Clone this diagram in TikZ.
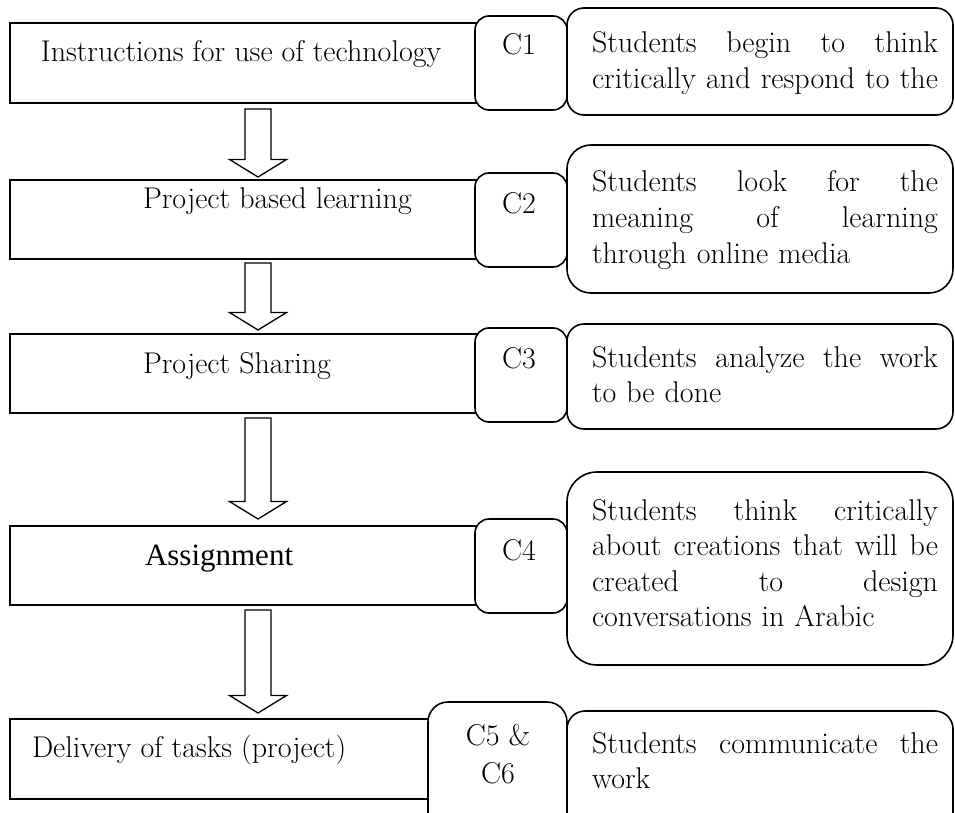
\documentclass[tikz,border=0pt]{standalone}
\usepackage{fontspec}
\newfontfamily\tnr{Liberation Serif}
\usetikzlibrary{calc}
\newcommand\blockarrow[2]{%
  \draw[blockarr] ($(#1)+(-13,0)$) -- ($(#1)+(13,0)$) -- ($(#2)+(13,-17.5)$)
    -- ($(#2)+(28.5,-17.5)$) -- (#2) -- ($(#2)+(-28.5,-17.5)$)
    -- ($(#2)+(-13,-17.5)$) -- cycle;}
\newcommand\jline[1]{\leavevmode\hbox to 346pt{#1}}
\begin{document}
\begin{tikzpicture}[x=1pt,y=-1pt,
  every node/.style={inner sep=0pt,outer sep=0pt},
  stepbox/.style={draw,fill=white,line width=1.6pt,anchor=north west},
  cbox/.style={draw,fill=white,line width=1.6pt,anchor=north west,rounded corners=14pt},
  rbox/.style={draw,fill=white,line width=1.6pt,anchor=north west},
  blockarr/.style={draw,fill=white,line width=1.3pt,line join=miter},
  txt/.style={font=\fontsize{30}{35.5}\selectfont},
  rtxt/.style={txt,anchor=base west,text width=346pt,align=left},
]
\useasboundingbox (0,0) rectangle (955,813);
\clip (0,0) rectangle (955,813);

% left step boxes
\node[stepbox,minimum width=475pt,minimum height=80pt] (b1) at (10,23) {};
\node[stepbox,minimum width=475pt,minimum height=79pt] (b2) at (10,180) {};
\node[stepbox,minimum width=475pt,minimum height=79pt] (b3) at (10,334) {};
\node[stepbox,minimum width=475pt,minimum height=79pt] (b4) at (10,526) {};
\node[stepbox,minimum width=425pt,minimum height=80pt] (b5) at (10,719) {};

\node[txt,anchor=base] (t1) at (241,62) {Instructions for use of technology};
\node[txt,anchor=base west] (t2) at (143,208) {Project based learning};
\node[txt,anchor=base west] (t3) at (143,373) {Project Sharing};
\node[txt,anchor=base west,font=\tnr\fontsize{31}{36}\selectfont] (t4) at (145,565) {Assignment};
\node[txt,anchor=base west] (t5) at (32,757) {Delivery of tasks (project)};

% C boxes
\node[cbox,minimum width=92pt,minimum height=94pt] (c1) at (475,16) {};
\node[cbox,minimum width=92pt,minimum height=94pt] (c2) at (475,173) {};
\node[cbox,minimum width=92pt,minimum height=94pt] (c3) at (475,328) {};
\node[cbox,minimum width=92pt,minimum height=94pt] (c4) at (475,519) {};
\node[cbox,minimum width=139pt,minimum height=134pt,rounded corners=20pt] (c5) at (428,702) {};

\node[txt,anchor=base] (l1) at (519,55) {C1};
\node[txt,anchor=base] (l2) at (519,213) {C2};
\node[txt,anchor=base] (l3) at (519,368) {C3};
\node[txt,anchor=base] (l4) at (519,560) {C4};
\node[txt,anchor=base] (l5a) at (498,745) {C5 \&};
\node[txt,anchor=base] (l5b) at (498,783) {C6};

% right description boxes
\node[rbox,rounded corners=17pt,minimum width=386pt,minimum height=107pt] (r1) at (567,8) {};
\node[rbox,rounded corners=24pt,minimum width=386pt,minimum height=148pt] (r2) at (567,145) {};
\node[rbox,rounded corners=17pt,minimum width=386pt,minimum height=105pt] (r3) at (567,324) {};
\node[rbox,rounded corners=30pt,minimum width=386pt,minimum height=193pt] (r4) at (567,472) {};
\node[rbox,rounded corners=18pt,minimum width=386pt,minimum height=130pt] (r5) at (567,711) {};

\node[rtxt] (d1) at (592,53) {\jline{Students\hfill begin\hfill to\hfill think}\\
  \jline{critically\hfill and\hfill respond\hfill to\hfill the}};
\node[rtxt] (d2) at (592,192) {\jline{Students\hfill look\hfill for\hfill the}\\
  \jline{meaning\hfill of\hfill learning}\\ through online media};
\node[rtxt] (d3) at (592,367) {\jline{Students\hfill analyze\hfill the\hfill work}\\ to be done};
\node[rtxt] (d4) at (592,520) {\jline{Students\hfill think\hfill critically}\\
  \jline{about\hfill creations\hfill that\hfill will\hfill be}\\
  \jline{created\hfill to\hfill design}\\ conversations in Arabic};
\node[rtxt] (d5) at (592,753) {\jline{Students\hfill communicate\hfill the}\\ work};

% block arrows between steps
\coordinate (a1s) at (258,109); \coordinate (a1e) at (258,177);
\coordinate (a2s) at (258,263); \coordinate (a2e) at (258,330);
\coordinate (a3s) at (258,418); \coordinate (a3e) at (258,519);
\coordinate (a4s) at (258,610); \coordinate (a4e) at (258,713);
\blockarrow{a1s}{a1e}
\blockarrow{a2s}{a2e}
\blockarrow{a3s}{a3e}
\blockarrow{a4s}{a4e}
\end{tikzpicture}
\end{document}
